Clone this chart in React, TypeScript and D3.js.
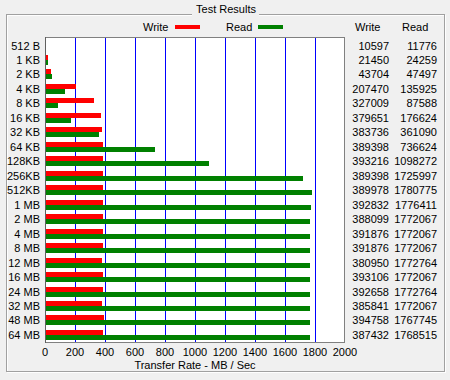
import React from "react";
import * as d3 from "d3";

const categories = ["512 B", "1 KB", "2 KB", "4 KB", "8 KB", "16 KB", "32 KB", "64 KB", "128KB", "256KB", "512KB", "1 MB", "2 MB", "4 MB", "8 MB", "12 MB", "16 MB", "24 MB", "32 MB", "48 MB", "64 MB"];
const writeValues = [10597, 21450, 43704, 207470, 327009, 379651, 383736, 389398, 393216, 389398, 389978, 392832, 388099, 391876, 391876, 380950, 393106, 392658, 385841, 394758, 387432];
const readValues = [11776, 24259, 47497, 135925, 87588, 176624, 361090, 736624, 1098272, 1725997, 1780775, 1776411, 1772067, 1772067, 1772067, 1772764, 1772067, 1772764, 1772067, 1767745, 1768515];
const xTicks = [0, 200, 400, 600, 800, 1000, 1200, 1400, 1600, 1800, 2000];

const W = 450, H = 380;
const font = "'Liberation Sans', Arial, sans-serif";

export default function App() {
  const x = d3.scaleLinear().domain([0, 2000]).range([45, 345]);
  const y = d3.scaleBand<string>().domain(categories).range([38.3, 342.2]).padding(0);
  const bh = 5;
  const cy = (c: string) => Math.round((y(c) as number) + y.bandwidth() / 2);
  const bw = (v: number) => Math.max(0, Math.floor(x(v / 1000)) - 46);
  return (
    <svg width={W} height={H} style={{ position: "fixed", left: 0, top: 0, background: "#f0f0f0", fontFamily: font }}>
      <rect x={0} y={0} width={W} height={H} fill="#f0f0f0" />
      {/* group box, etched */}
      <rect x={7.5} y={15.5} width={438} height={357} fill="none" stroke="#ffffff" opacity={0.9} />
      <rect x={6.5} y={14.5} width={438} height={357} fill="none" stroke="#a0a0a0" />
      <rect x={192} y={8} width={67} height={12} fill="#f0f0f0" />
      <text x={226} y={13} textAnchor="middle" fontSize={11} fill="#000">Test Results</text>

      {/* legend */}
      <text x={143} y={31} fontSize={11}>Write</text>
      <rect x={175} y={25} width={25} height={4} fill="#ff0000" />
      <text x={226} y={31} fontSize={11}>Read</text>
      <rect x={258} y={25} width={25} height={4} fill="#008000" />

      <text x={355} y={31} fontSize={11}>Write</text>
      <text x={402} y={31} fontSize={11}>Read</text>

      {/* plot */}
      <rect x={45.5} y={37.5} width={299} height={305} fill="#ffffff" />
      {xTicks.filter(t => t > 0 && t < 2000).map(t => (
        <line key={t} x1={Math.round(x(t)) + 0.5} x2={Math.round(x(t)) + 0.5} y1={38} y2={342} stroke="#0000ff" />
      ))}
      {categories.map((c, i) => (
        <g key={c}>
          <rect x={46} y={cy(c) - bh} width={bw(writeValues[i])} height={bh} fill="#ff0000" shapeRendering="crispEdges" />
          <rect x={46} y={cy(c)} width={bw(readValues[i])} height={bh} fill="#008000" shapeRendering="crispEdges" />
          <text x={40} y={cy(c) + 4} textAnchor="end" fontSize={11}>{c}</text>
          <text x={389} y={cy(c) + 4} textAnchor="end" fontSize={11}>{writeValues[i]}</text>
          <text x={437} y={cy(c) + 4} textAnchor="end" fontSize={11}>{readValues[i]}</text>
        </g>
      ))}
      <rect x={45.5} y={37.5} width={299} height={305} fill="none" stroke="#808080" />
      <line x1={45.5} x2={45.5} y1={37} y2={343} stroke="#606060" />
      {xTicks.map(t => (
        <text key={t} x={x(t)} y={356} textAnchor="middle" fontSize={11}>{t}</text>
      ))}
      <text x={195} y={369} textAnchor="middle" fontSize={11}>Transfer Rate - MB / Sec</text>
    </svg>
  );
}
